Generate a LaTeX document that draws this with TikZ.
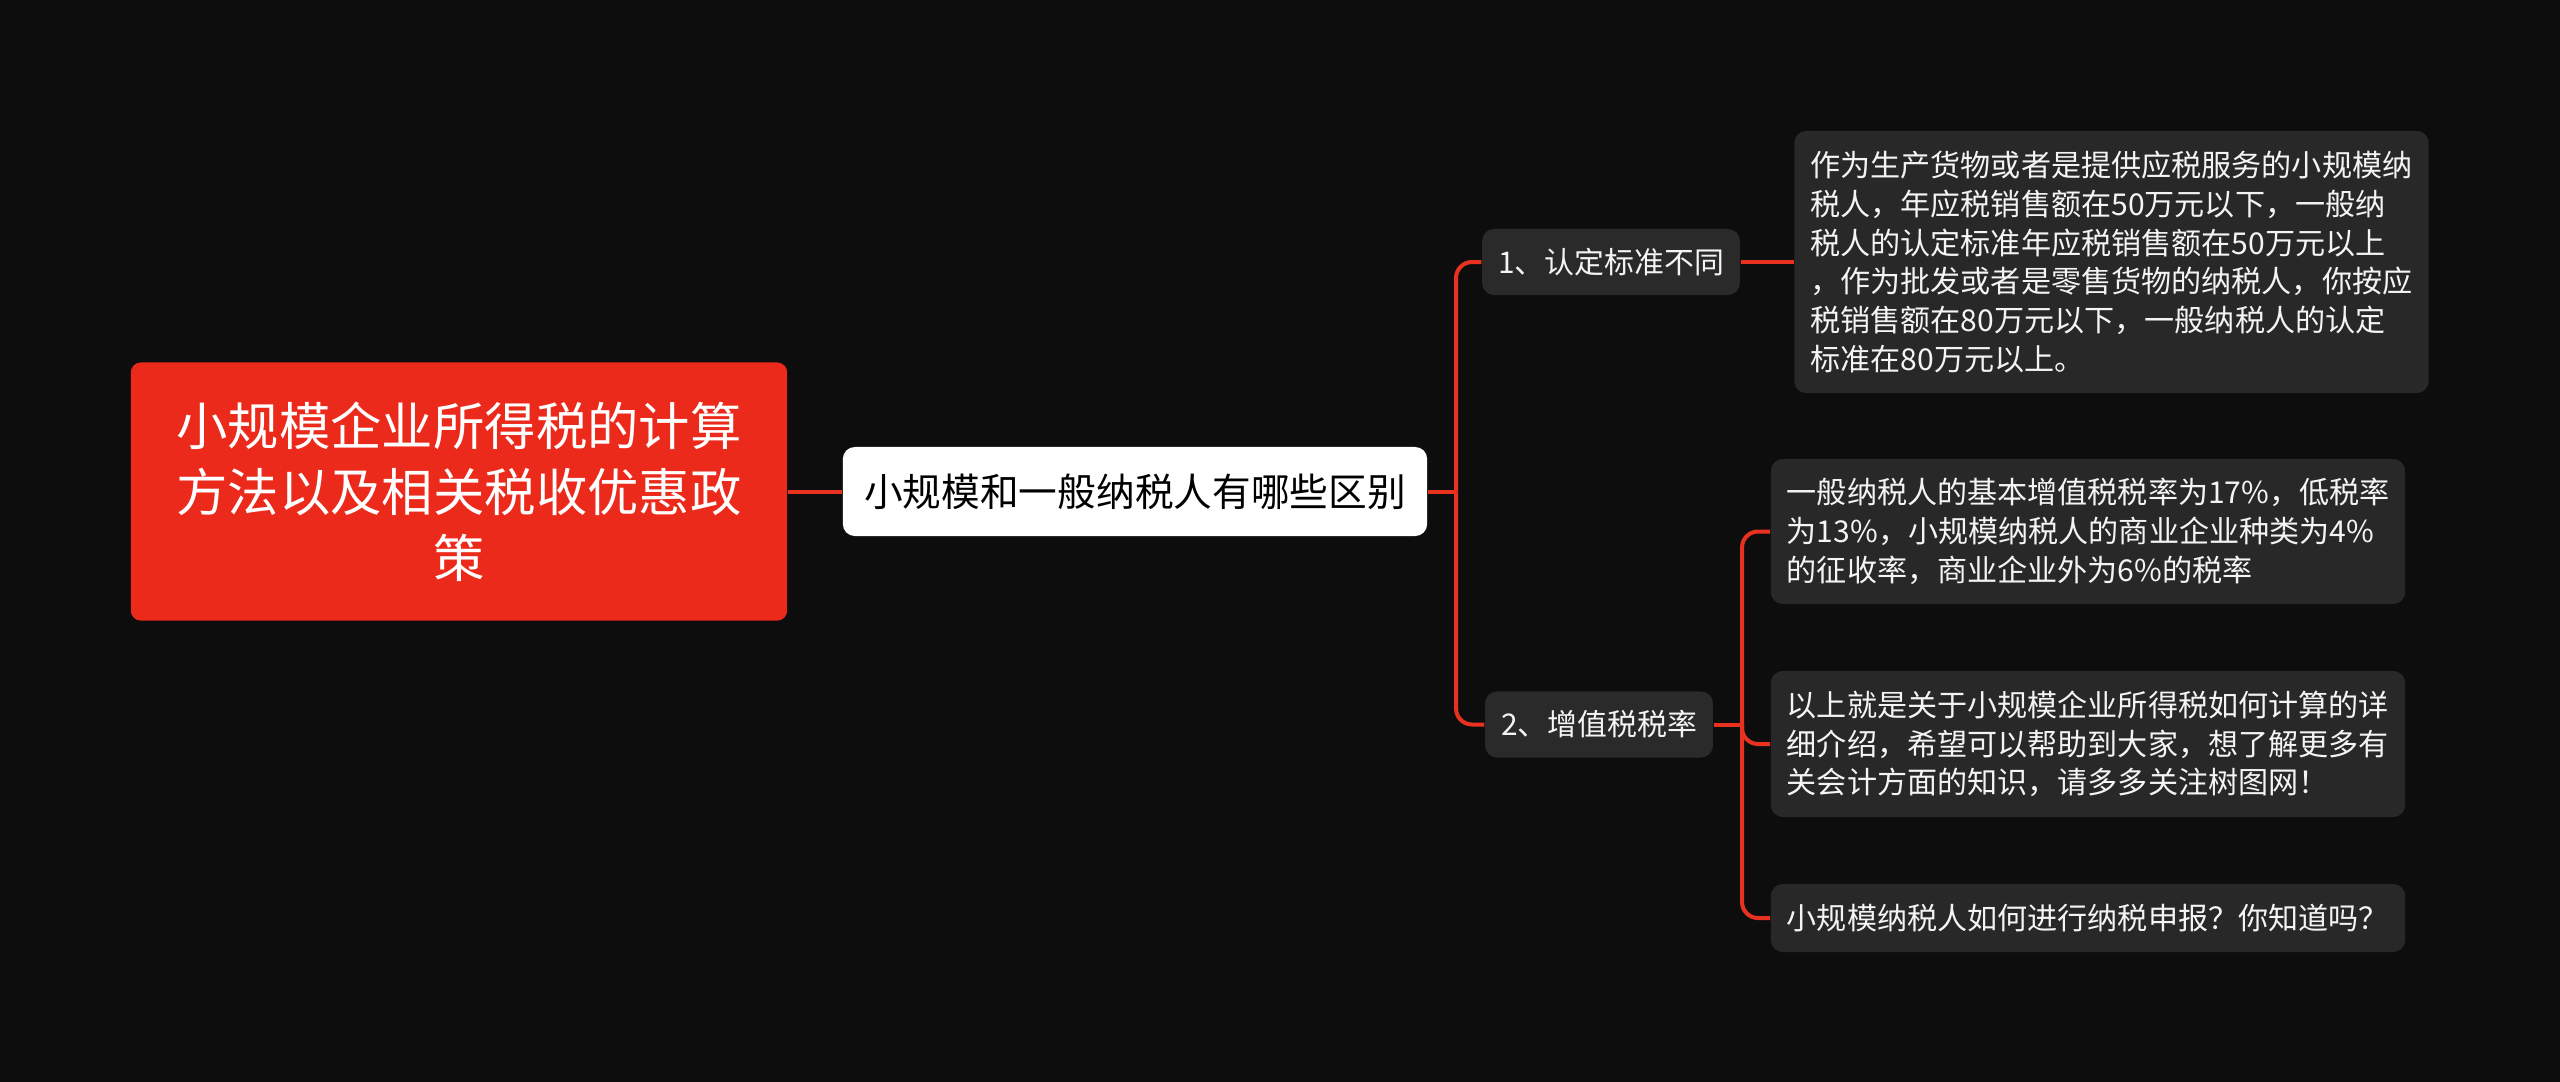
\documentclass[tikz,border=0pt]{standalone}
\usepackage{fontspec}
\setmainfont{Noto Sans CJK SC}
\usepackage{tikz}
\usepackage{xcolor}

\definecolor{bgdark}{HTML}{0D0D0D}
\definecolor{rootred}{HTML}{EC2A1B}
\definecolor{linkred}{HTML}{E8321F}
\definecolor{topicgray}{HTML}{2A2A2A}
\definecolor{leafgray}{HTML}{282828}
\definecolor{textwhite}{HTML}{F4F4F4}

\begin{document}
\begin{tikzpicture}[
    x=0.01cm, y=-0.01cm,
    link/.style={draw=linkred, line width=0.04cm, rounded corners=0.16cm},
    rootbox/.style={fill=rootred, rounded corners=0.1cm, text=white, align=center,
        minimum width=6.56cm, minimum height=2.58cm,
        font=\fontsize{14.6pt}{18.8pt}\selectfont},
    subbox/.style={fill=white, rounded corners=0.12cm, text=black,
        minimum width=5.84cm, minimum height=0.89cm,
        font=\fontsize{11pt}{13pt}\selectfont},
    topicbox/.style={fill=topicgray, rounded corners=0.12cm, text=textwhite,
        inner xsep=0.16cm, minimum height=0.66cm,
        font=\fontsize{8.5pt}{11pt}\selectfont},
    leafbox/.style={fill=leafgray, rounded corners=0.12cm, text=textwhite,
        align=left, text width=6.02cm, inner xsep=0.16cm,
        font=\fontsize{8.56pt}{11pt}\selectfont}
]
    % Background
    \useasboundingbox (0,0) rectangle (2560,1081);
    \fill[bgdark] (-20,-20) rectangle (2580,1101);

    % Main nodes
    \node[rootbox] (root) at (459,491.5) {小规模企业所得税的计算\\方法以及相关税收优惠政\\策};
    \node[subbox] (diff) at (1135,491.5) {小规模和一般纳税人有哪些区别};

    \node[topicbox] (std) at (1611,262) {1、认定标准不同};
    \node[topicbox] (rate) at (1599,724.5) {2、增值税税率};

    % Leaves
    \node[leafbox, minimum height=2.62cm] (stdtext) at (2111.5,262) {作为生产货物或者是提供应税服务的小规模纳\\税人，年应税销售额在50万元以下，一般纳\\税人的认定标准年应税销售额在50万元以上\\，作为批发或者是零售货物的纳税人，你按应\\税销售额在80万元以下，一般纳税人的认定\\标准在80万元以上。};
    \node[leafbox, minimum height=1.45cm] (ratetext) at (2088,531.5) {一般纳税人的基本增值税税率为17\%，低税率\\为13\%，小规模纳税人的商业企业种类为4\%\\的征收率，商业企业外为6\%的税率};
    \node[leafbox, minimum height=1.46cm] (summary) at (2088,744) {以上就是关于小规模企业所得税如何计算的详\\细介绍，希望可以帮助到大家，想了解更多有\\关会计方面的知识，请多多关注树图网！};
    \node[leafbox, minimum height=0.68cm] (report) at (2088,918) {小规模纳税人如何进行纳税申报？你知道吗？};

    % Connectors
    \coordinate (fork1) at (1456,491.5);
    \coordinate (fork2) at (1742,724.5);
    \draw[link] (root.east) -- (diff.west);
    \draw[link] (diff.east) -- (fork1);
    \draw[link] (fork1) |- (std.west);
    \draw[link] (fork1) |- (rate.west);
    \draw[link] (std.east) -- (stdtext.west);
    \draw[link] (rate.east) -- (fork2);
    \draw[link] (fork2) |- (ratetext.west);
    \draw[link] (fork2) |- (summary.west);
    \draw[link] (fork2) |- (report.west);
\end{tikzpicture}
\end{document}
